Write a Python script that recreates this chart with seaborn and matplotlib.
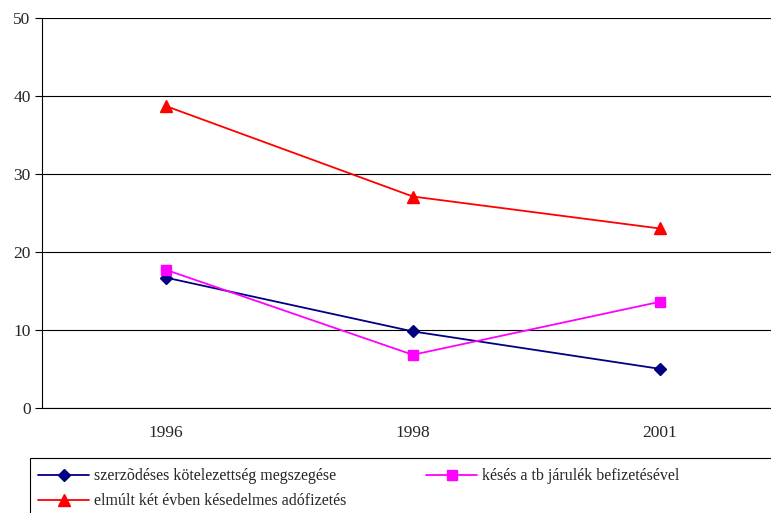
import matplotlib
matplotlib.use("Agg")
import matplotlib.pyplot as plt
from matplotlib.patches import Rectangle
import seaborn as sns
import pandas as pd

years = ["1996", "1998", "2001"]
s1 = [16.7, 9.8, 5.0]
s2 = [17.7, 6.8, 13.6]
s3 = [38.7, 27.1, 23.0]
names = ["szerzõdéses kötelezettség megszegése", "késés a tb járulék befizetésével",
         "elmúlt két évben késedelmes adófizetés"]

sns.set_style("white")
plt.rcParams['font.family'] = ['Liberation Serif', 'DejaVu Serif']

fig = plt.figure(figsize=(7.71, 5.13), dpi=100)
ax = fig.add_axes([0.055, 0.205, 0.945, 0.76])
x = [0, 1, 2]
h1, = ax.plot(x, s1, color="#000080", marker="D", markersize=6, lw=1.3, label=names[0])
h2, = ax.plot(x, s2, color="#FF00FF", marker="s", markersize=7, lw=1.3, label=names[1])
h3, = ax.plot(x, s3, color="#FF0000", marker="^", markersize=8, lw=1.3, label=names[2])
ax.set_xlim(-0.5, 2.45)
ax.set_ylim(0, 50)
ax.set_yticks(range(0, 51, 10))
ax.set_xticks(x)
ax.set_xticklabels(years)
ax.set_xticks([0.5, 1.5], minor=True)
ax.tick_params(axis="x", which="major", length=0, labelsize=12.5, pad=12)
ax.tick_params(axis="x", which="minor", length=5, color="black", direction="out")
ax.tick_params(axis="y", length=5, color="black", direction="out", labelsize=12.5, left=True)
ax.yaxis.grid(True, color="black", lw=0.8)
for sp in ["top", "right"]:
    ax.spines[sp].set_visible(False)
for sp in ["left", "bottom"]:
    ax.spines[sp].set_color("black")
    ax.spines[sp].set_linewidth(0.8)
fig.patches.append(Rectangle((0.039, -0.01), 1.0, 0.117, transform=fig.transFigure,
                             fill=False, edgecolor="black", lw=0.8))
leg = fig.legend([h1, h3, h2], [names[0], names[2], names[1]],
                 loc="upper left", bbox_to_anchor=(0.042, 0.098),
                 ncol=2, fontsize=11.5, frameon=False,
                 borderaxespad=0, handlelength=3.2, handletextpad=0.3, labelspacing=0.55,
                 borderpad=0.35, columnspacing=5.0)
fig.savefig("out.png", dpi=100)
